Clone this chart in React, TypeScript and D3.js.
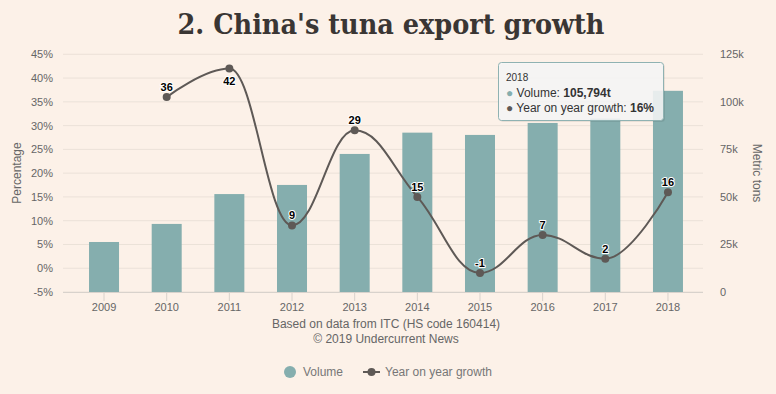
import * as d3 from 'd3'

const years = ['2009', '2010', '2011', '2012', '2013', '2014', '2015', '2016', '2017', '2018']
const volume = [26300, 35800, 51500, 56300, 72600, 83800, 82600, 88900, 91200, 105794]
const growth: (number | null)[] = [null, 36, 42, 9, 29, 15, -1, 7, 2, 16]
const pctTicks = [-5, 0, 5, 10, 15, 20, 25, 30, 35, 40, 45]
const tonTicks = [0, 25000, 50000, 75000, 100000, 125000]

const W = 776, H = 394
const top = 54.3, bottom = 292, left = 63, right = 703
const bg = '#fcf1e8'
const barColor = '#85aeae'
const lineColor = '#5e5956'
const textColor = '#666'

const x = d3.scaleBand<string>().domain(years).range([72.7, 699.3]).padding(0)
const yPct = d3.scaleLinear().domain([-5, 45]).range([bottom, top])
const yTon = d3.scaleLinear().domain([0, 125000]).range([bottom, top])
const cx = (y: string) => (x(y) ?? 0) + x.bandwidth() / 2

// highcharts-style spline
const splinePath = (pts: [number, number][]) => {
  const p = d3.path()
  const sm = 1.5, denom = sm + 1
  let prevRX = 0, prevRY = 0
  pts.forEach(([px, py], i) => {
    if (i === 0) {
      p.moveTo(px, py)
      prevRX = px; prevRY = py
      return
    }
    let lX = px, lY = py, rX = px, rY = py
    const next = pts[i + 1]
    if (next) {
      const [lastX, lastY] = pts[i - 1]
      const [nextX, nextY] = next
      lX = (sm * px + lastX) / denom
      lY = (sm * py + lastY) / denom
      rX = (sm * px + nextX) / denom
      rY = (sm * py + nextY) / denom
      const corr = ((rY - lY) * (rX - px)) / (rX - lX) + py - rY
      lY += corr; rY += corr
      if (lY > lastY && lY > py) { lY = Math.max(lastY, py); rY = 2 * py - lY }
      else if (lY < lastY && lY < py) { lY = Math.min(lastY, py); rY = 2 * py - lY }
      if (rY > nextY && rY > py) { rY = Math.max(nextY, py); lY = 2 * py - rY }
      else if (rY < nextY && rY < py) { rY = Math.min(nextY, py); lY = 2 * py - rY }
    }
    p.bezierCurveTo(prevRX, prevRY, lX, lY, px, py)
    prevRX = rX; prevRY = rY
  })
  return p.toString()
}

export default function App() {
  const pts = years
    .map((yr, i) => ({ yr, g: growth[i] }))
    .filter(d => d.g !== null)
    .map(d => [cx(d.yr), yPct(d.g as number)] as [number, number])
  const font = '"Liberation Sans", Arial, sans-serif'

  return (
    <svg width={W} height={H} style={{ position: 'absolute', left: 0, top: 0, fontFamily: font }}>
      <rect width={W} height={H} fill={bg} />
      <text x={391} y={34} textAnchor="middle" fontFamily='"DejaVu Serif", Georgia, serif' fontWeight="bold"
        fontSize={27} fill="#3a3634" textLength={427} lengthAdjust="spacingAndGlyphs">
        2. China's tuna export growth
      </text>

      {/* grid */}
      {pctTicks.map(t => (
        <line key={t} x1={left} x2={right} y1={yPct(t)} y2={yPct(t)} stroke="#ebe1d8" strokeWidth={1} />
      ))}
      {pctTicks.map(t => (
        <text key={'l' + t} x={53} y={yPct(t) + 4} textAnchor="end" fontSize={11} fill={textColor}>{t}%</text>
      ))}
      {tonTicks.map(t => (
        <text key={'r' + t} x={720} y={yTon(t) + 4} fontSize={11} fill={textColor}>{t === 0 ? '0' : t / 1000 + 'k'}</text>
      ))}
      <text transform="translate(21,173) rotate(-90)" textAnchor="middle" fontSize={12} fill={textColor}>Percentage</text>
      <text transform="translate(753,173) rotate(90)" textAnchor="middle" fontSize={12} fill={textColor}>Metric tons</text>

      {/* x axis */}
      <line x1={left} x2={right} y1={bottom + 0.5} y2={bottom + 0.5} stroke="#d8d2cc" />
      {years.map(yr => (
        <g key={yr}>
          <line x1={cx(yr)} x2={cx(yr)} y1={bottom} y2={bottom + 9} stroke="#d8d2cc" />
          <text x={cx(yr)} y={311} textAnchor="middle" fontSize={11} fill={textColor}>{yr}</text>
        </g>
      ))}

      {/* bars */}
      {years.map((yr, i) => (
        <rect key={'b' + yr} x={cx(yr) - 15} width={30} y={yTon(volume[i])} height={bottom - yTon(volume[i])} fill={barColor} />
      ))}

      {/* growth line */}
      <path d={splinePath(pts)} fill="none" stroke={lineColor} strokeWidth={2} />
      {pts.map(([px, py], i) => (
        <circle key={'p' + i} cx={px} cy={py} r={4} fill={lineColor} />
      ))}
      {years.map((yr, i) => {
        const g = growth[i]
        if (g === null) return null
        const py = yPct(g)
        const ly = py - 18 < top ? py + 16 : py - 6
        return (
          <text key={'dl' + yr} x={cx(yr)} y={ly} textAnchor="middle" fontSize={11} fontWeight="bold"
            fill="#000" stroke="#fff" strokeWidth={2} strokeLinejoin="round" style={{ paintOrder: 'stroke' }}>
            {g}
          </text>
        )
      })}

      {/* tooltip */}
      <g>
        <rect x={499.5} y={63.5} width={165} height={58} rx={3} fill="#000" opacity={0.05} />
        <rect x={500} y={64} width={165} height={58} rx={3} fill="#000" opacity={0.05} />
        <rect x={498.5} y={62.5} width={165} height={58} rx={3} fill="rgba(247,247,247,0.88)" stroke="#8fb2b2" />
        <text x={506} y={81} fontSize={10} fill="#333">{years[9]}</text>
        <text x={506} y={97} fontSize={12} fill="#333">
          <tspan fill={barColor}>●</tspan> Volume: <tspan fontWeight="bold">{d3.format(',')(volume[9])}t</tspan>
        </text>
        <text x={506} y={112} fontSize={12} fill="#333">
          <tspan fill={lineColor}>●</tspan> Year on year growth: <tspan fontWeight="bold">{growth[9]}%</tspan>
        </text>
      </g>

      {/* credits */}
      <text x={386} y={328} textAnchor="middle" fontSize={12} fill={textColor}>Based on data from ITC (HS code 160414)</text>
      <text x={386} y={343} textAnchor="middle" fontSize={12} fill={textColor}>© 2019 Undercurrent News</text>

      {/* legend */}
      <circle cx={290} cy={372} r={6} fill={barColor} />
      <text x={303} y={376} fontSize={12} fill="#777">Volume</text>
      <line x1={363} x2={380} y1={372} y2={372} stroke={lineColor} strokeWidth={2} />
      <circle cx={371.5} cy={372} r={4} fill={lineColor} />
      <text x={385} y={376} fontSize={12} fill="#777">Year on year growth</text>
    </svg>
  )
}
